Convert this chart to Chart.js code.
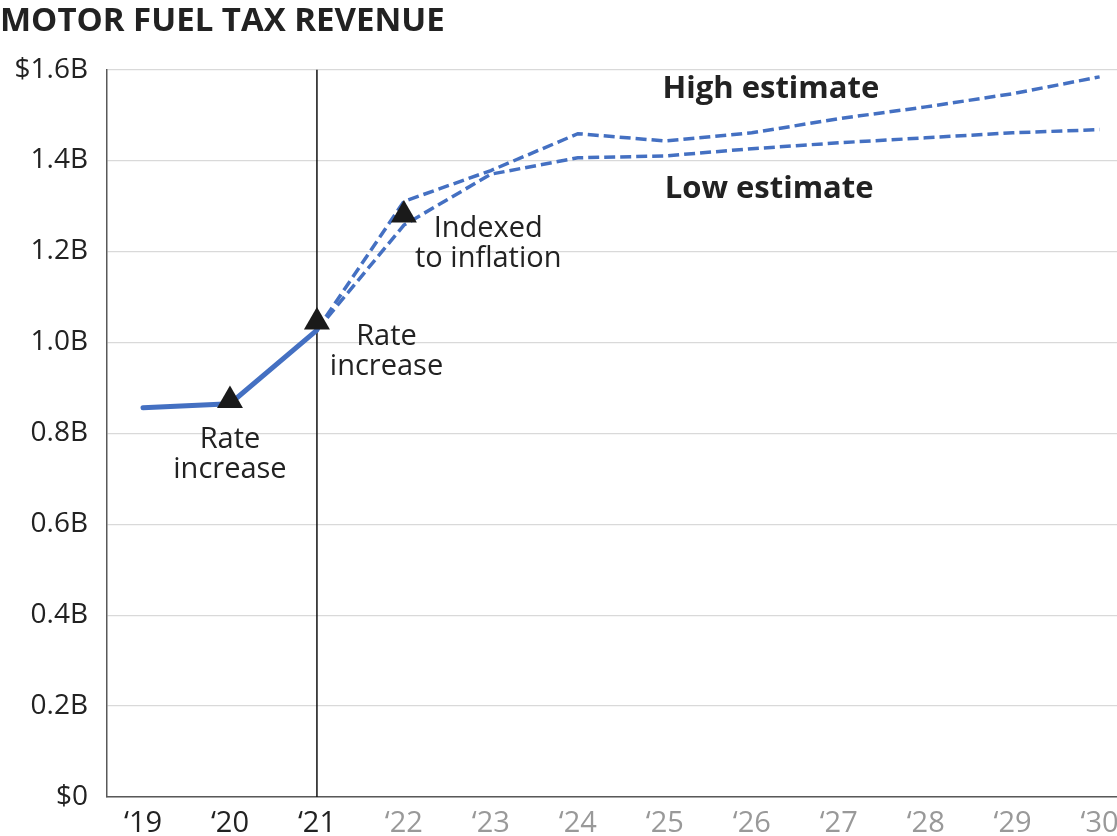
<!DOCTYPE html>
<html>
<head>
<meta charset="utf-8">
<script src="https://cdn.jsdelivr.net/npm/chart.js@4.4.1/dist/chart.umd.min.js"></script>
<style>
    html, body { margin: 0; padding: 0; background: #fff; overflow: hidden; }
    #wrap { width: 1117px; height: 836px; position: relative; }
</style>
</head>
<body>
<div id="wrap"><canvas id="fuelChart"></canvas></div>
<script>
// ========== DATA ==========
const tickYears = [19, 20, 21, 22, 23, 24, 25, 26, 27, 28, 29, 30];
const xTickLabels = ['\u201819', '\u201820', '\u201821', '\u201822', '\u201823', '\u201824',
    '\u201825', '\u201826', '\u201827', '\u201828', '\u201829', '\u201830'];
const yTicks = [0, 0.2, 0.4, 0.6, 0.8, 1.0, 1.2, 1.4, 1.6];
const yTickLabels = ['$0', '0.2B', '0.4B', '0.6B', '0.8B', '1.0B', '1.2B', '1.4B', '$1.6B'];

const actualYears = [19, 20, 21];
const actualValues = [0.856, 0.865, 1.027];

const projYears = [21, 22, 23, 24, 25, 26, 27, 28, 29, 30];
const highValues = [1.027, 1.31, 1.378, 1.459, 1.443, 1.461, 1.492, 1.518, 1.547, 1.584];
const lowValues = [1.027, 1.258, 1.37, 1.406, 1.41, 1.426, 1.439, 1.45, 1.461, 1.468];

const markerYears = [20, 21, 22];
const markerValues = [0.872, 1.045, 1.28];

const dividerYear = 21;

// annotation text, anchored in data units
const notes = [
    { x: 20, y: 0.785, lines: ['Rate', 'increase'], bold: false },
    { x: 21.8, y: 1.012, lines: ['Rate', 'increase'], bold: false },
    { x: 22.97, y: 1.25, lines: ['Indexed', 'to inflation'], bold: false },
    { x: 26.22, y: 1.556, lines: ['High estimate'], bold: true },
    { x: 26.2, y: 1.338, lines: ['Low estimate'], bold: true }
];

// ========== HELPERS ==========
const BLUE = '#4470c2';
const FONT = "'Open Sans', 'DejaVu Sans', sans-serif";
const toPoints = (xs, ys) => xs.map((x, i) => ({ x: x, y: ys[i] }));

const notesPlugin = {
    id: 'notes',
    afterDatasetsDraw(chart) {
        const { ctx, scales } = chart;
        ctx.save();
        ctx.fillStyle = '#222';
        ctx.textAlign = 'center';
        ctx.textBaseline = 'middle';
        notes.forEach(n => {
            ctx.font = n.bold ? 'bold 31px ' + FONT : '29px ' + FONT;
            const px = scales.x.getPixelForValue(n.x);
            const py = scales.y.getPixelForValue(n.y);
            n.lines.forEach((line, i) => ctx.fillText(line, px, py + i * 30));
        });
        ctx.restore();
    }
};

// ========== CHART ==========
const ctx = document.getElementById('fuelChart').getContext('2d');
new Chart(ctx, {
    type: 'line',
    data: {
        datasets: [
            {
                label: 'Events',
                data: toPoints(markerYears, markerValues),
                showLine: false,
                pointStyle: 'triangle',
                pointRadius: 15,
                pointBackgroundColor: '#1a1a1a',
                pointBorderColor: '#1a1a1a',
                pointBorderWidth: 0
            },
            {
                label: 'Actual',
                data: toPoints(actualYears, actualValues),
                borderColor: BLUE,
                borderWidth: 5,
                borderCapStyle: 'round',
                pointRadius: 0,
                tension: 0
            },
            {
                label: 'High estimate',
                data: toPoints(projYears, highValues),
                borderColor: BLUE,
                borderWidth: 3.5,
                borderDash: [11, 5],
                pointRadius: 0,
                tension: 0
            },
            {
                label: 'Low estimate',
                data: toPoints(projYears, lowValues),
                borderColor: BLUE,
                borderWidth: 3.5,
                borderDash: [11, 5],
                pointRadius: 0,
                tension: 0
            },
            {
                label: 'Divider',
                data: toPoints([dividerYear, dividerYear], [0, 1.6]),
                borderColor: '#111',
                borderWidth: 1.5,
                pointRadius: 0
            }
        ]
    },
    options: {
        responsive: true,
        maintainAspectRatio: false,
        animation: false,
        // no auto padding: the triangles would otherwise eat into the right edge
        layout: { padding: 0, autoPadding: false },
        plugins: {
            legend: { display: false },
            tooltip: { enabled: false },
            title: {
                display: true,
                text: 'MOTOR FUEL TAX REVENUE',
                align: 'start',
                color: '#222',
                font: { family: FONT, size: 33, weight: 'bold' },
                padding: { top: 2, bottom: 28 }
            }
        },
        scales: {
            x: {
                type: 'linear',
                min: 18.586,
                max: 30.2,
                afterBuildTicks: (scale) => {
                    scale.ticks = tickYears.map(v => ({ value: v }));
                },
                afterFit: (scale) => {
                    scale.height = 39;
                    scale.paddingRight = 0;  // let '30 run off the edge like the original
                },
                grid: { display: false, drawTicks: false },
                border: { display: true, color: '#595959', width: 1.5 },
                ticks: {
                    padding: 9,
                    maxRotation: 0,
                    autoSkip: false,
                    font: { family: FONT, size: 29 },
                    color: (c) => (c.index <= 2 ? '#222' : '#999'),
                    callback: (value, index) => xTickLabels[index]
                }
            },
            y: {
                min: 0,
                max: 1.6,
                afterBuildTicks: (scale) => {
                    scale.ticks = yTicks.map(v => ({ value: v }));
                },
                afterFit: (scale) => { scale.width = 107; },
                grid: { color: '#d9d9d9', lineWidth: 1.2, drawTicks: false },
                border: { display: true, color: '#595959', width: 1.5 },
                ticks: {
                    padding: 19,
                    font: { family: FONT, size: 28 },
                    color: '#222',
                    callback: (value, index) => yTickLabels[index]
                }
            }
        }
    },
    plugins: [notesPlugin]
});
</script>
</body>
</html>
